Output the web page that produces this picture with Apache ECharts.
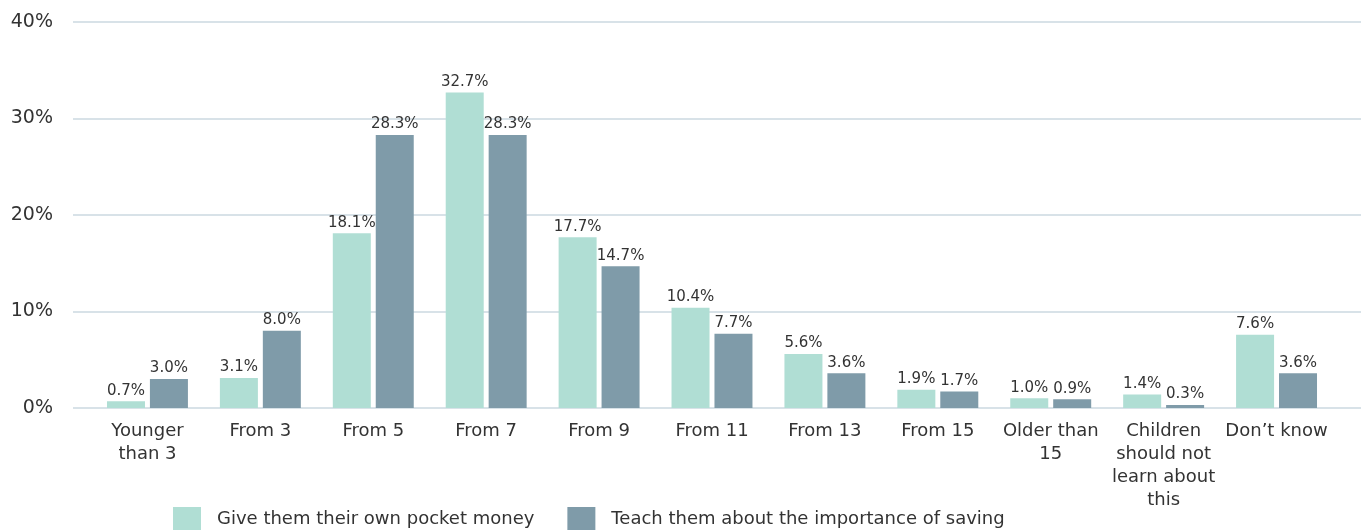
<!DOCTYPE html>
<html>
<head>
<meta charset="utf-8">
<script src="https://cdn.jsdelivr.net/npm/echarts@6/dist/echarts.min.js"></script>
<style>
  html, body { margin: 0; padding: 0; background: #fff; }
  #chart { width: 1361px; height: 530px; }
</style>
</head>
<body>
<div id="chart"></div>
<script>
// Age groups and the share of respondents for each approach
const categories = [
  'Younger\nthan 3', 'From 3', 'From 5', 'From 7', 'From 9', 'From 11',
  'From 13', 'From 15', 'Older than\n15', 'Children\nshould not\nlearn about\nthis', 'Don\u2019t know'
];
const pocketMoney = [0.7, 3.1, 18.1, 32.7, 17.7, 10.4, 5.6, 1.9, 1.0, 1.4, 7.6];
const importanceOfSaving = [3.0, 8.0, 28.3, 28.3, 14.7, 7.7, 3.6, 1.7, 0.9, 0.3, 3.6];
const seriesNames = ['Give them their own pocket money', 'Teach them about the importance of saving'];
const yTicks = [0, 10, 20, 30, 40];

const FONT = '"DejaVu Sans", sans-serif';
const TEXT = '#333333';
const GRID_LINE = '#cbd8e0';
const yMin = yTicks[0], yMax = yTicks[yTicks.length - 1], yStep = yTicks[1] - yTicks[0];

const chart = echarts.init(document.getElementById('chart'), null, { renderer: 'canvas' });

const labelFmt = p => p.value.toFixed(1) + '%';

chart.setOption({
  animation: false,
  textStyle: { fontFamily: FONT, color: TEXT },
  grid: [
    // full-width grid carrying the value axis and its gridlines
    { left: 73, right: 0, top: 22, bottom: 122, containLabel: false },
    // inset grid holding the bars
    { left: 91, right: 28, top: 22, bottom: 122, containLabel: false }
  ],
  xAxis: [
    { gridIndex: 0, type: 'category', data: [''], show: false },
    {
      gridIndex: 1, type: 'category', data: categories,
      axisLine: { show: false }, axisTick: { show: false },
      axisLabel: { color: TEXT, fontFamily: FONT, fontSize: 18, lineHeight: 23, margin: 12, interval: 0 }
    }
  ],
  yAxis: [
    {
      gridIndex: 0, type: 'value', min: yMin, max: yMax, interval: yStep,
      axisLine: { show: false }, axisTick: { show: false },
      splitLine: { lineStyle: { color: GRID_LINE, width: 1.5 } },
      axisLabel: { color: TEXT, fontFamily: FONT, fontSize: 19, margin: 20, formatter: '{value}%' }
    },
    {
      gridIndex: 1, type: 'value', min: yMin, max: yMax, interval: yStep,
      show: false, splitLine: { show: false }
    }
  ],
  legend: {
    top: 507, left: 173, padding: 0,
    itemWidth: 28, itemHeight: 24, itemGap: 33,
    icon: 'rect',
    textStyle: { color: TEXT, fontFamily: FONT, fontSize: 18, padding: [0, 0, 0, 11] },
    data: seriesNames
  },
  series: [
    {
      name: seriesNames[0], type: 'bar', xAxisIndex: 1, yAxisIndex: 1,
      data: pocketMoney, barWidth: 38, barGap: '13%',
      itemStyle: { color: '#b0ded4' },
      label: { show: true, position: 'top', distance: 3, color: TEXT, fontFamily: FONT, fontSize: 15, formatter: labelFmt }
    },
    {
      name: seriesNames[1], type: 'bar', xAxisIndex: 1, yAxisIndex: 1,
      data: importanceOfSaving, barWidth: 38, barGap: '13%',
      itemStyle: { color: '#7f9ba9' },
      label: { show: true, position: 'top', distance: 3, color: TEXT, fontFamily: FONT, fontSize: 15, formatter: labelFmt }
    }
  ]
});
</script>
</body>
</html>
